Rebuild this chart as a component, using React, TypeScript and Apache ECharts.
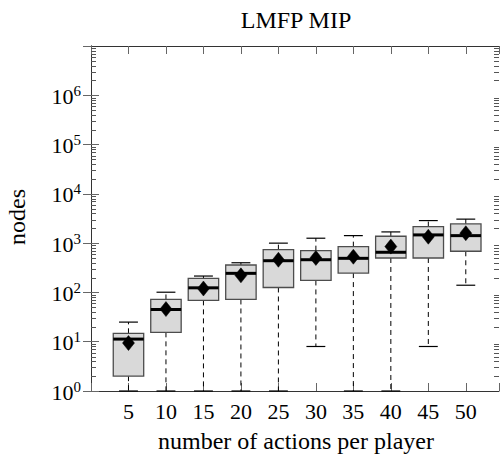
import React, { useEffect, useRef } from "react";
import * as echarts from "echarts";

const categories = [5, 10, 15, 20, 25, 30, 35, 40, 45, 50];
const lows = [1, 1, 1, 1, 1, 8, 1, 1, 8, 140];
const q1s = [2, 15.5, 69, 72, 126, 175, 247, 500, 500, 684];
const medians = [11.3, 45, 124, 244, 440, 461, 492, 653, 1469, 1420];
const q3s = [14.8, 72, 193, 360, 738, 704, 849, 1380, 2170, 2460];
const highs = [25, 101, 215, 400, 1000, 1259, 1421, 1690, 2870, 3070];
const means = [9.4, 46, 120, 222, 460, 500, 530, 850, 1350, 1590];

const yExponents = [0, 1, 2, 3, 4, 5, 6, 7];
const minorMultipliers = [2, 3, 4, 5, 6, 7, 8, 9];

const FONT = "serif";

export default function App() {
  const ref = useRef<HTMLDivElement>(null);
  useEffect(() => {
    if (!ref.current) return;
    const chart = echarts.init(ref.current, undefined, { renderer: "svg" });

    const boxData = categories.map((c, i) => [c, lows[i], q1s[i], medians[i], q3s[i], highs[i], means[i]]);
    const minorData: number[][] = [];
    yExponents.slice(0, -1).forEach((e) => {
      minorMultipliers.forEach((m) => minorData.push([0, m * Math.pow(10, e)]));
    });

    const BOX_HALF = 2.03;
    const CAP_HALF = 1.26;

    const yAxisCommon = {
      type: "log" as const,
      logBase: 10,
      min: 1,
      max: 1e7,
      splitNumber: 7,
      splitLine: { show: false },
      axisLine: { show: true, lineStyle: { color: "#333", width: 1 } },
      axisTick: { show: true, inside: true, length: 8, lineStyle: { color: "#666", width: 1 } },
    };
    const xAxisCommon = {
      type: "value" as const,
      min: 0,
      max: 54.43,
      interval: 5,
      splitLine: { show: false },
      axisLine: { show: true, lineStyle: { color: "#333", width: 1 } },
      axisTick: { show: true, inside: true, length: 8, lineStyle: { color: "#666", width: 1 } },
    };

    chart.setOption({
      animation: false,
      backgroundColor: "#fff",
      textStyle: { fontFamily: FONT },
      grid: { left: 91, top: 46, width: 410, height: 345, containLabel: false },
      xAxis: [
        {
          ...xAxisCommon,
          position: "bottom",
          axisLabel: {
            show: true,
            margin: 9,
            fontSize: 22,
            fontFamily: FONT,
            color: "#000",
            formatter: (v: number) => (categories.indexOf(v) >= 0 ? String(v) : ""),
          },
        },
        {
          ...xAxisCommon,
          position: "top",
          axisLabel: { show: false },
        },
      ],
      yAxis: [
        {
          ...yAxisCommon,
          position: "left",
          axisLabel: {
            show: true,
            margin: 10,
            color: "#000",
            fontFamily: FONT,
            showMaxLabel: false,
            formatter: (v: number) => {
              const e = Math.round(Math.log10(v));
              if (e >= 7) return "";
              return `{b|10}{s|${e}}`;
            },
            rich: {
              b: { fontSize: 22, fontFamily: FONT, color: "#000", lineHeight: 24, verticalAlign: "bottom" },
              s: { fontSize: 15, fontFamily: FONT, color: "#000", lineHeight: 24, verticalAlign: "top" },
            },
          },
        },
        {
          ...yAxisCommon,
          position: "right",
          axisLabel: { show: false },
        },
      ],
      graphic: [
        {
          type: "text",
          x: 296,
          y: 20,
          style: {
            text: "LMFP MIP",
            fontSize: 24,
            fontFamily: FONT,
            fill: "#000",
            align: "center",
            verticalAlign: "middle",
          },
        },
        {
          type: "text",
          x: 296,
          y: 441,
          style: {
            text: "number of actions per player",
            fontSize: 24,
            fontFamily: FONT,
            fill: "#000",
            align: "center",
            verticalAlign: "middle",
          },
        },
        {
          type: "text",
          x: 17,
          y: 217,
          rotation: Math.PI / 2,
          style: {
            text: "nodes",
            fontSize: 24,
            fontFamily: FONT,
            fill: "#000",
            align: "center",
            verticalAlign: "middle",
          },
        },
      ],
      series: [
        {
          type: "custom",
          name: "minor",
          xAxisIndex: 0,
          yAxisIndex: 0,
          data: minorData,
          encode: { x: 0, y: 1 },
          silent: true,
          renderItem: (params: any, api: any) => {
            const p = api.coord([0, api.value(1)]);
            const cs = params.coordSys;
            const y = Math.round(p[1]) + 0.5;
            return {
              type: "group",
              children: [
                { type: "line", shape: { x1: cs.x, y1: y, x2: cs.x + 5, y2: y }, style: { stroke: "#555", lineWidth: 1 } },
                { type: "line", shape: { x1: cs.x + cs.width - 5, y1: y, x2: cs.x + cs.width, y2: y }, style: { stroke: "#555", lineWidth: 1 } },
              ],
            };
          },
        },
        {
          type: "custom",
          name: "boxes",
          xAxisIndex: 0,
          yAxisIndex: 0,
          data: boxData,
          encode: { x: 0, y: [1, 2, 3, 4, 5, 6] },
          renderItem: (params: any, api: any) => {
            const x = api.value(0);
            const low = api.coord([x, api.value(1)]);
            const q1 = api.coord([x, api.value(2)]);
            const med = api.coord([x, api.value(3)]);
            const q3 = api.coord([x, api.value(4)]);
            const high = api.coord([x, api.value(5)]);
            const mean = api.coord([x, api.value(6)]);
            const left = api.coord([x - BOX_HALF, 1])[0];
            const right = api.coord([x + BOX_HALF, 1])[0];
            const capL = api.coord([x - CAP_HALF, 1])[0];
            const capR = api.coord([x + CAP_HALF, 1])[0];
            const cx = low[0];
            const dw = 6;
            const dh = 7.5;
            return {
              type: "group",
              children: [
                { type: "line", shape: { x1: cx, y1: q1[1], x2: cx, y2: low[1] }, style: { stroke: "#000", lineWidth: 1, lineDash: [5, 4] } },
                { type: "line", shape: { x1: cx, y1: q3[1], x2: cx, y2: high[1] }, style: { stroke: "#000", lineWidth: 1, lineDash: [5, 4] } },
                { type: "line", shape: { x1: capL, y1: low[1], x2: capR, y2: low[1] }, style: { stroke: "#000", lineWidth: 1.2 } },
                { type: "line", shape: { x1: capL, y1: high[1], x2: capR, y2: high[1] }, style: { stroke: "#000", lineWidth: 1.2 } },
                {
                  type: "rect",
                  shape: { x: left, y: q3[1], width: right - left, height: q1[1] - q3[1] },
                  style: { fill: "#d9d9d9", stroke: "#4d4d4d", lineWidth: 1.3 },
                },
                { type: "line", shape: { x1: left, y1: med[1], x2: right, y2: med[1] }, style: { stroke: "#000", lineWidth: 3 } },
                {
                  type: "polygon",
                  shape: {
                    points: [
                      [cx, mean[1] - dh],
                      [cx + dw, mean[1]],
                      [cx, mean[1] + dh],
                      [cx - dw, mean[1]],
                    ],
                  },
                  style: { fill: "#000", stroke: "#000", lineWidth: 0.5 },
                },
              ],
            };
          },
        },
      ],
    });
    return () => chart.dispose();
  }, []);
  return <div ref={ref} style={{ position: "fixed", left: 0, top: 0, width: 502, height: 461 }} />;
}
